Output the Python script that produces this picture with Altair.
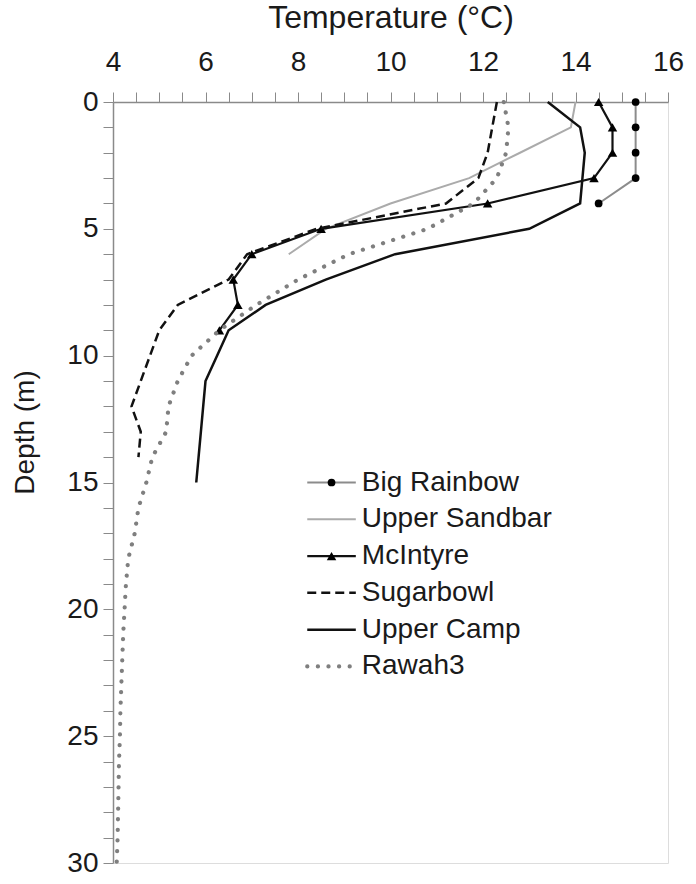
import altair as alt
import pandas as pd

# Temperature profiles (°C), one value per metre of depth starting at the surface
depth_step = 1
big_rainbow = [15.3, 15.3, 15.3, 15.3, 14.5]
upper_sandbar = [14.0, 13.9, 12.8, 11.7, 10.0, 8.6, 7.8]
mcintyre = [14.5, 14.8, 14.8, 14.4, 12.1, 8.5, 7.0, 6.6, 6.7, 6.3]
sugarbowl = [12.3, 12.2, 12.1, 11.9, 11.2, 8.4, 6.9, 6.5, 5.4, 5.0, 4.8, 4.6, 4.4, 4.6, 4.55]
upper_camp = [13.4, 14.1, 14.2, 14.15, 14.1, 13.0, 10.1, 8.6, 7.3, 6.5, 6.25, 6.0,
              5.95, 5.9, 5.85, 5.8]
rawah3 = [12.45, 12.55, 12.5, 12.3, 11.8, 10.8, 9.1, 8.0, 7.1, 6.3, 5.7, 5.4, 5.2, 5.15,
          4.85, 4.72, 4.55, 4.47, 4.33, 4.28, 4.25, 4.22, 4.2, 4.18, 4.16, 4.15, 4.13,
          4.12, 4.11, 4.1, 4.08]

series_names = ["Big Rainbow", "Upper Sandbar", "McIntyre", "Sugarbowl", "Upper Camp", "Rawah3"]
series_values = [big_rainbow, upper_sandbar, mcintyre, sugarbowl, upper_camp, rawah3]

FONT = "Liberation Sans"
FS = 28
GRAY_AXIS = "#8a8a8a"

# line / marker style per lake
styles = {
    "Big Rainbow": dict(line=dict(color="#8c8c8c", strokeWidth=2), marker="circle"),
    "Upper Sandbar": dict(line=dict(color="#ababab", strokeWidth=2), marker=None),
    "McIntyre": dict(line=dict(color="#111111", strokeWidth=2.2), marker="triangle-up"),
    "Sugarbowl": dict(line=dict(color="#111111", strokeWidth=2.5, strokeDash=[9, 5]), marker=None),
    "Upper Camp": dict(line=dict(color="#111111", strokeWidth=2.5), marker=None),
    "Rawah3": dict(line=dict(color="#7f7f7f", strokeWidth=4.2, strokeDash=[0.1, 10.5],
                             strokeCap="round"), marker=None),
}
marker_size = {"circle": 60, "triangle-up": 90}

x_axis = alt.Axis(
    orient="top", values=[4 + 0.5 * i for i in range(25)],
    labelExpr="datum.value % 2 === 0 ? toString(datum.value) : ''",
    labelOverlap=False, labelFlush=False, grid=False,
    tickSize=10, tickColor=GRAY_AXIS, domainColor=GRAY_AXIS, domainWidth=1.5,
    labelFont=FONT, labelFontSize=FS, labelColor="#1a1a1a", labelPadding=16,
    title="Temperature (°C)", titleFont=FONT, titleFontSize=32, titleFontWeight="normal",
    titleColor="#1a1a1a", titleY=-75, titleBaseline="alphabetic",
)
y_axis = alt.Axis(
    orient="left", values=list(range(0, 31)),
    labelExpr="datum.value % 5 === 0 ? toString(datum.value) : ''",
    labelOverlap=False, grid=False,
    tickSize=10, tickColor=GRAY_AXIS, domainColor=GRAY_AXIS, domainWidth=1.5,
    labelFont=FONT, labelFontSize=FS, labelColor="#1a1a1a", labelPadding=5,
    title="Depth (m)", titleFont=FONT, titleFontSize=FS, titleFontWeight="normal",
    titleColor="#1a1a1a", titleX=-88, titleY=330, titleBaseline="middle",
)

X = alt.X("temp:Q", scale=alt.Scale(domain=[4, 16], nice=False, zero=False), axis=x_axis)
Y = alt.Y("depth:Q", scale=alt.Scale(domain=[0, 30], nice=False, reverse=True), axis=y_axis)

# legend block, placed inside the plot in data units
leg_x0, leg_x1, leg_text = 8.2, 9.25, 9.38
leg_top, leg_gap = 15.0, 1.45

layers = []
legend_lines = []
for i, (name, temps) in enumerate(zip(series_names, series_values)):
    st = styles[name]
    df = pd.DataFrame({"depth": [k * depth_step for k in range(len(temps))], "temp": temps})
    base = alt.Chart(df).encode(x=X, y=Y, order=alt.Order("depth:Q"))
    layers.append(base.mark_line(**st["line"]))

    row = leg_top + i * leg_gap
    leg_df = pd.DataFrame({"temp": [leg_x0, leg_x1], "depth": [row, row]})
    legend_lines.append(alt.Chart(leg_df).mark_line(**st["line"]).encode(x=X, y=Y))

    if st["marker"]:
        mk = dict(shape=st["marker"], size=marker_size[st["marker"]], filled=True,
                  color="#000000", opacity=1)
        layers.append(base.mark_point(**mk))
        mid_df = pd.DataFrame({"temp": [(leg_x0 + leg_x1) / 2], "depth": [row]})
        legend_lines.append(alt.Chart(mid_df).mark_point(**mk).encode(x=X, y=Y))

label_df = pd.DataFrame({
    "temp": [leg_text] * len(series_names),
    "depth": [leg_top + i * leg_gap for i in range(len(series_names))],
    "name": series_names,
})
legend_text = alt.Chart(label_df).mark_text(
    align="left", baseline="middle", font=FONT, fontSize=FS, color="#1a1a1a"
).encode(x=X, y=Y, text="name:N")

chart = alt.layer(*layers, *legend_lines, legend_text).properties(
    width=555, height=761,
    padding={"left": 113, "top": 102, "right": 28, "bottom": 21},
    autosize=alt.AutoSizeParams(type="none"),
).configure_view(stroke=GRAY_AXIS, strokeWidth=1.5).configure(background="white")

chart.save("out.html", embed_options={"renderer": "svg", "actions": False})
